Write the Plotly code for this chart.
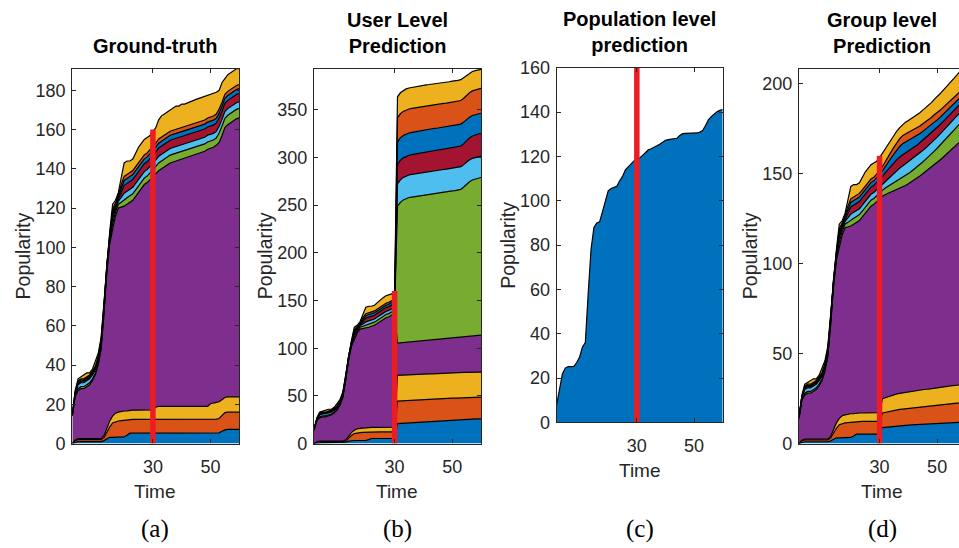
import plotly.graph_objects as go

# ---------------------------------------------------------------- data
time = list(range(2, 61))          # observation times 2..60
split_time = 30                     # end of the observed window
split_height = 160                  # height of the marker at the split

# Ground-truth popularity contributed by each user group (t = 2..60)
gt_blue1 = [0, 0.5, 1, 1, 1, 1, 1, 1, 1, 1, 1, 1.5, 2.5, 3.2, 3.2, 3.2, 3.2, 3.2, 3.4, 4.2,
            5.3, 5.3, 5.3, 5.3, 5.3, 5.3, 5.3, 5.3, 5.3] + [5.3] * 22 + [5.5, 6.3, 7, 7.2, 7.2, 7.2, 7.2, 7.2]
gt_orange1 = [0, 1] + [1] * 9 + [1.5, 3.5, 5.3, 7.3, 8, 8.3, 8.5, 8.5, 7.8, 7] + [7] * 8 + \
             [7.2] * 22 + [7.3, 8.2, 8.8] + [8.8] * 5
gt_yellow1 = [0, 0.3] + [0.5] * 9 + [1, 2, 3, 3.5, 4.3, 4.5] + [4.7] * 11 + [4.9] + \
             [6] + [6.5] * 18 + [7.8, 8.3, 8.5, 8.5, 8, 7.7] + [7.8] * 5
gt_purple = [14, 22.2, 24.5, 25.5, 25.5, 26.5, 27.5, 29.5, 32.5, 37.5, 45.5, 62, 79, 90.5, 96,
             100.5, 104, 104.1, 104.4, 105.3, 106, 107, 109, 111, 113, 115, 116, 117.5, 119.3,
             119.5, 120, 121, 122, 123, 124, 124.5, 125, 125.5, 126, 126.5, 127, 127.5, 128,
             128.5, 129, 129.5, 130, 131, 130.2, 130.2, 131, 132.2, 134.5, 137.5, 138.7, 139.7,
             140.7, 141.7, 142.2]
gt_green = [0.2, 0.5] + [1] * 12 + [2, 2, 2, 2.5] + [3.3] * 11 + \
           [3.3] + [4] * 9 + [3.7] * 12 + [4.8] * 8
gt_lblue = [0.3, 1] + [2] * 6 + [1.5] * 6 + [2.5, 1.5, 1.5, 2.5] + [3.3] * 11 + \
           [3.3] + [3.4] * 29
gt_dred = [0.1, 0.3] + [0.8] * 12 + [2, 1.2, 1.2, 2.5] + [4] * 11 + \
          [4] + [4.2] * 29
gt_blue2 = [0.1, 0.2] + [0.6] * 12 + [1.5, 1, 1, 2] + [2.5] * 11 + [2.5] * 30
gt_orange2 = [0.1, 0.3] + [0.6] * 12 + [1.5, 1, 1, 2] + [2] * 11 + \
             [2] + [2.1] * 29
gt_yellow2 = [0.3, 0.7, 1, 1, 2, 2, 1, 1, 2.5, 1.5, 1.5, 1.5, 0.5, 1.5, 2.5, 1.3, 1.3, 4, 6.9,
              6.9, 5.9, 5.9, 6.9, 7.9, 7.9, 7.9, 7.9, 7.4, 7.4,
              7.9, 9.8, 10.8, 10.8, 10.8, 10.8, 11.3, 11.8, 11.3, 11.8, 11.6, 11.8, 11.9, 12, 12,
              12, 12, 12.1, 11.5, 11.6, 11.2, 11.1, 9.5, 10, 8, 8.5, 8.5, 8.5, 8.5, 8]

# User-level prediction for t = 31..60
user_blue1 = [21.0, 21.2, 21.4, 21.6, 21.8, 22.0, 22.2, 22.4, 22.6, 22.8, 23.0, 23.2, 23.4, 23.6, 23.8,
              24.0, 24.2, 24.4, 24.6, 24.8, 25.0, 25.1, 25.2, 25.4, 25.5, 25.6, 25.7, 25.8, 25.9, 26.0]
user_orange1 = [23.6, 23.6, 23.5, 23.5, 23.4, 23.4, 23.3, 23.3, 23.2, 23.2, 23.1, 23.1, 23.0, 23.0, 22.9,
                22.9, 22.9, 22.8, 22.8, 22.8, 22.7, 22.7, 22.7, 22.7, 22.6, 22.6, 22.6, 22.6, 22.6, 22.6]
user_yellow1 = [27.0, 27.0, 27.0, 26.9, 26.9, 26.9, 26.9, 26.8, 26.8, 26.8, 26.8, 26.7, 26.7, 26.7, 26.7,
                26.6, 26.6, 26.6, 26.6, 26.6, 26.5, 26.5, 26.5, 26.5, 26.5, 26.4, 26.4, 26.4, 26.4, 26.4]
user_purple = [33.8, 33.9, 34.1, 34.3, 34.5, 34.6, 34.8, 35.0, 35.1, 35.3, 35.5, 35.6, 35.8, 36.0, 36.1,
               36.3, 36.5, 36.6, 36.8, 37.0, 37.1, 37.3, 37.5, 37.6, 37.8, 38.0, 38.2, 38.4, 38.6, 38.8]
user_green = [143.5, 147.3, 149.5, 150.7, 151.4, 151.6, 151.8, 152.0, 152.3, 152.5, 152.8, 152.8, 152.9,
              153.0, 153.1, 153.2, 153.4, 153.5, 153.6, 153.8, 153.9, 154.2, 154.7, 156.8, 159.9, 162.0,
              163.5, 164.3, 164.9, 165.2]
user_lblue = [23.5, 23.5, 23.6, 23.6, 23.6, 23.7, 23.7, 23.7, 23.7, 23.8, 23.8, 23.8, 23.8, 23.8, 23.8,
              23.8, 23.8, 23.8, 23.8, 23.8, 23.8, 23.8, 23.8, 23.5, 23.2, 22.9, 22.7, 22.5, 22.4, 22.4]
user_dred = [20.3, 20.4, 20.5, 20.6, 20.7, 20.8, 20.9, 21.0, 21.1, 21.1, 21.2, 21.3, 21.3, 21.4, 21.4,
             21.5, 21.5, 21.5, 21.6, 21.6, 21.6, 21.6, 21.6, 22.0, 22.5, 23.0, 23.4, 23.7, 23.9, 24.0]
user_blue2 = [23.6, 23.6, 23.5, 23.5, 23.4, 23.4, 23.4, 23.3, 23.3, 23.3, 23.2, 23.2, 23.2, 23.1, 23.1,
              23.1, 23.1, 23.0, 23.0, 23.0, 23.0, 23.0, 23.0, 22.6, 22.2, 21.8, 21.5, 21.3, 21.1, 21.0]
user_orange2 = [25.3, 25.3, 25.2, 25.2, 25.1, 25.1, 25.0, 25.0, 25.0, 24.9, 24.9, 24.9, 24.8, 24.8, 24.8,
                24.8, 24.7, 24.7, 24.7, 24.7, 24.7, 24.7, 24.7, 25.0, 25.3, 25.6, 25.8, 25.9, 26.0, 26.0]
user_yellow2 = [22.0, 22.0, 22.0, 22.0, 22.0, 22.0, 22.0, 22.0, 22.0, 22.0, 21.9, 21.9, 21.9, 21.9, 21.9,
                21.9, 21.9, 21.9, 21.9, 21.9, 21.9, 21.9, 21.9, 21.5, 21.0, 20.6, 20.3, 20.1, 20.0, 20.0]

# Population-level prediction (single aggregate series, t = 2..60)
population = [8, 16, 22, 24.5, 25.2, 25.2, 25.3, 27, 29.5, 34, 36, 58, 78, 88, 90, 90.5, 95, 100,
              104.5, 105.5, 106, 106.5, 109, 111, 114, 115.5, 116.5, 118, 118.8, 119.3, 120.5, 122,
              123, 123.5, 124, 124.8, 125.5, 126.5, 127.3, 127.6, 127.8, 128, 128.2, 129.5, 130.3,
              130.4, 130.4, 130.4, 130.5, 130.6, 131, 131.7, 134, 136.5, 138, 139.3, 140.2, 140.8,
              141.2]

# Group-level prediction for t = 31..60
group_blue1 = [8.9, 9.1, 9.3, 9.5, 9.7, 9.9, 10.0, 10.1, 10.2, 10.3, 10.4, 10.5, 10.6, 10.7, 10.8,
               10.9, 11.0, 11.1, 11.2, 11.3, 11.4, 11.5, 11.5, 11.6, 11.6, 11.7, 11.8, 11.8, 11.9, 12.0]
group_orange1 = [8.1, 8.3, 8.5, 8.7, 8.8, 8.9, 9.0, 9.1, 9.2, 9.3, 9.4, 9.5, 9.6, 9.7, 9.8,
                 9.9, 9.9, 10.0, 10.1, 10.2, 10.3, 10.4, 10.5, 10.5, 10.6, 10.7, 10.7, 10.8, 10.8, 10.8]
group_yellow1 = [8.0, 8.2, 8.4, 8.6, 8.7, 8.8, 8.9, 9.0, 9.0, 9.1, 9.1, 9.2, 9.2, 9.3, 9.3,
                 9.4, 9.4, 9.5, 9.5, 9.6, 9.6, 9.7, 9.7, 9.8, 9.8, 9.8, 9.9, 10.0, 10.1, 10.2]
group_purple = [112.5, 112.9, 113.0, 113.0, 113.3, 113.6, 113.9, 114.3, 115.1, 115.8, 116.6, 117.3,
                118.1, 119.1, 120.1, 121.0, 122.1, 123.0, 124.2, 125.2, 126.4, 127.5, 128.8, 130.1,
                131.5, 132.8, 134.1, 135.4, 136.7, 138.0]
group_green = [3.3, 3.6, 3.9, 4.2, 4.5, 4.8, 5.0, 5.2, 5.4, 5.6, 5.8, 6.0, 6.2, 6.4, 6.6,
               6.8, 7.0, 7.3, 7.6, 7.9, 8.2, 8.5, 8.8, 9.1, 9.4, 9.7, 9.9, 10.1, 10.3, 10.5]
group_lblue = [3.5, 4.0, 4.5, 5.0, 5.5, 6.0, 6.4, 6.6, 6.6, 6.6, 6.5, 6.5, 6.4, 6.4, 6.4,
               6.3, 6.3, 6.3, 6.3, 6.2, 6.2, 6.2, 6.2, 6.2, 6.1, 6.1, 6.1, 6.1, 6.1, 6.1]
group_dred = [4.3, 4.6, 5.0, 5.3, 5.6, 5.9, 6.1, 6.2, 6.2, 6.1, 6.0, 5.9, 5.8, 5.7, 5.6,
              5.6, 5.5, 5.5, 5.4, 5.3, 5.2, 5.1, 5.0, 4.9, 4.8, 4.7, 4.6, 4.6, 4.6, 4.6]
group_blue2 = [3.0, 3.5, 4.0, 4.5, 5.0, 5.5, 5.9, 6.2, 6.1, 5.9, 5.7, 5.5, 5.3, 5.1, 5.0,
               4.9, 4.8, 4.6, 4.5, 4.3, 4.1, 4.0, 3.9, 3.8, 3.6, 3.5, 3.4, 3.4, 3.4, 3.4]
group_orange2 = [2.5, 2.8, 3.1, 3.4, 3.7, 4.0, 4.3, 4.5, 4.5, 4.4, 4.4, 4.3, 4.3, 4.2, 4.2,
                 4.1, 4.1, 4.0, 4.0, 3.9, 3.9, 3.9, 3.8, 3.8, 3.8, 3.7, 3.7, 3.7, 3.7, 3.7]
group_yellow2 = [7.4, 7.2, 7.0, 6.8, 6.6, 6.4, 6.2, 6.2, 6.4, 6.6, 6.8, 7.0, 7.2, 7.4, 7.6,
                 7.8, 8.0, 8.3, 8.6, 8.9, 9.2, 9.5, 9.8, 10.1, 10.4, 10.7, 11.0, 11.3, 11.5, 11.7]

x_ticks = [30, 50]
y_ticks_a = [0, 20, 40, 60, 80, 100, 120, 140, 160, 180]
y_ticks_b = [0, 50, 100, 150, 200, 250, 300, 350]
y_ticks_c = [0, 20, 40, 60, 80, 100, 120, 140, 160]
y_ticks_d = [0, 50, 100, 150, 200]

panel_titles = ["Ground-truth", "User Level<br>Prediction",
                "Population level<br>prediction", "Group level<br>Prediction"]
panel_tags = ["(a)", "(b)", "(c)", "(d)"]

# ---------------------------------------------------------------- style
W, H = 959, 548
COLORS = ["#0072BD", "#D95319", "#EDB120", "#7E2F8E", "#77AC30",
          "#4DBEEE", "#A2142F", "#0072BD", "#D95319", "#EDB120"]
INK = "#262626"
RED = "#EC1C24"
SANS = "Liberation Sans, Arial, sans-serif"
SERIF = "Liberation Serif, Times New Roman, serif"


def px_x(x):
    return x / W


def px_y(y):
    return 1 - y / H


n_obs = split_time - time[0] + 1   # number of observed points (t <= split)

gt_series = [gt_blue1, gt_orange1, gt_yellow1, gt_purple, gt_green,
             gt_lblue, gt_dred, gt_blue2, gt_orange2, gt_yellow2]
user_series = [g[:n_obs] + u for g, u in zip(gt_series, [
    user_blue1, user_orange1, user_yellow1, user_purple, user_green,
    user_lblue, user_dred, user_blue2, user_orange2, user_yellow2])]
group_series = [g[:n_obs] + u for g, u in zip(gt_series, [
    group_blue1, group_orange1, group_yellow1, group_purple, group_green,
    group_lblue, group_dred, group_blue2, group_orange2, group_yellow2])]

fig = go.Figure()


def add_stack(series_list, colors, ax, group):
    for vals, col in zip(series_list, colors):
        fig.add_trace(go.Scatter(
            x=time, y=vals, mode="lines", stackgroup=group,
            line=dict(color="black", width=1.2), fillcolor=col,
            xaxis="x" + ax, yaxis="y" + ax, hoverinfo="skip"))


def add_split(ax):
    fig.add_trace(go.Scatter(
        x=[split_time, split_time], y=[0, split_height], mode="lines",
        line=dict(color=RED, width=5.5), xaxis="x" + ax, yaxis="y" + ax,
        hoverinfo="skip"))


add_stack(gt_series, COLORS, "", "a")
add_split("")
add_stack(user_series, COLORS, "2", "b")
add_split("2")
add_stack([population], [COLORS[0]], "3", "c")
add_split("3")
add_stack(group_series, COLORS, "4", "d")
add_split("4")

# panel frames in pixels: (left, right, top, bottom)
frames = [(72.3, 239.3, 61, 450), (314, 481, 61, 450),
          (556.7, 722.7, 60, 428), (799, 959, 61, 450)]
y_ranges = [[0, 191], [0, 393], [0, 160], [0, 208.4]]
x_ranges = [[2, 60], [2, 60], [2, 60], [2, 57.6]]
y_ticks = [y_ticks_a, y_ticks_b, y_ticks_c, y_ticks_d]

layout = dict(width=W, height=H, margin=dict(l=0, r=0, t=0, b=0),
              paper_bgcolor="white", plot_bgcolor="white", showlegend=False)

axis_common = dict(showline=True, linecolor=INK, linewidth=1.3, ticks="inside",
                   ticklen=4, tickwidth=1, tickcolor=INK, showgrid=False,
                   zeroline=False, tickfont=dict(family=SANS, size=18, color=INK))

annotations = []
for i, (l, r, t, b) in enumerate(frames):
    suffix = "" if i == 0 else str(i + 1)
    xa = dict(axis_common, domain=[px_x(l), min(px_x(r), 1.0)], range=x_ranges[i],
              tickvals=x_ticks, anchor="y" + suffix, mirror="allticks",
              ticklabelstandoff=7)
    ya = dict(axis_common, domain=[px_y(b), px_y(t)], range=y_ranges[i],
              tickvals=y_ticks[i], anchor="x" + suffix,
              mirror=(False if i == 3 else "allticks"), ticklabelstandoff=2)
    layout["xaxis" + suffix] = xa
    layout["yaxis" + suffix] = ya

    cx = (l + (l + 166)) / 2
    # panel title
    annotations.append(dict(text="<b>" + panel_titles[i] + "</b>", x=px_x(cx), y=px_y(t - 10),
                            xref="paper", yref="paper", xanchor="center", yanchor="bottom",
                            showarrow=False, font=dict(family=SANS, size=20, color="black")))
    # x-axis label
    annotations.append(dict(text="Time", x=px_x(cx), y=px_y(b + 50), xref="paper", yref="paper",
                            xanchor="center", yanchor="middle", showarrow=False,
                            font=dict(family=SANS, size=19, color=INK)))
    # y-axis label
    annotations.append(dict(text="Popularity", x=px_x(l - 49), y=px_y((t + b) / 2),
                            xref="paper", yref="paper", xanchor="center", yanchor="middle",
                            textangle=-90, showarrow=False,
                            font=dict(family=SANS, size=19.5, color=INK)))
    # panel tag
    annotations.append(dict(text=panel_tags[i], x=px_x(cx), y=px_y(539), xref="paper",
                            yref="paper", xanchor="center", yanchor="middle", showarrow=False,
                            font=dict(family=SERIF, size=25, color="black")))

layout["annotations"] = annotations
fig.update_layout(**layout)

fig.write_html("out.html")
